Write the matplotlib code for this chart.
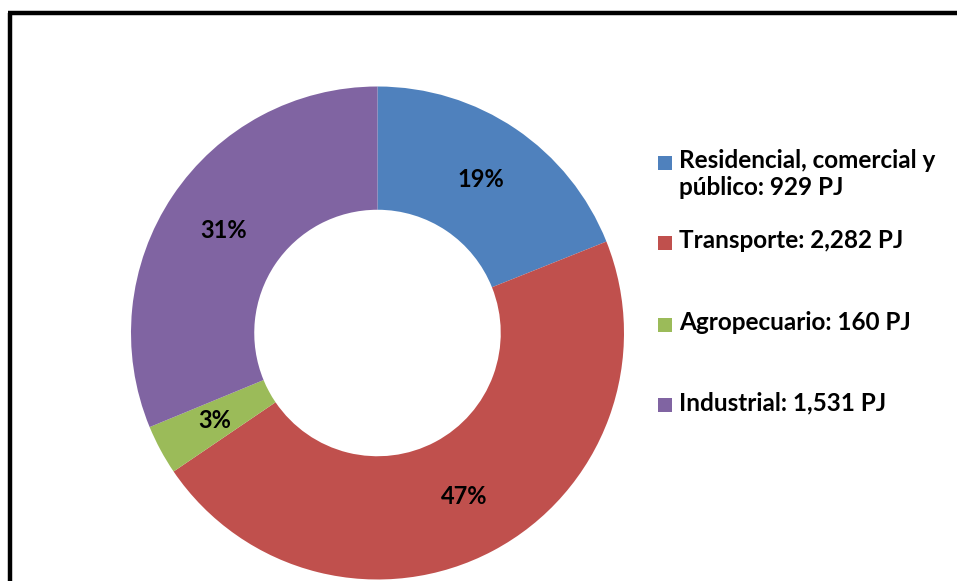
import matplotlib.pyplot as plt
from matplotlib.patches import Rectangle
from matplotlib.lines import Line2D

sectors = ["Residencial, comercial y\npúblico: 929 PJ", "Transporte: 2,282 PJ",
           "Agropecuario: 160 PJ", "Industrial: 1,531 PJ"]
energy_pj = [929, 2282, 160, 1531]
colors = ["#4F81BD", "#C0504D", "#9BBB59", "#8064A2"]

plt.rcParams['font.family'] = ['Lato', 'DejaVu Sans']

W, H = 957, 581
fig = plt.figure(figsize=(W / 100, H / 100), dpi=100)

# donut
cx, cy, r = 377.5, 333, 246.5
ax = fig.add_axes([(cx - r) / W, (H - cy - r) / H, 2 * r / W, 2 * r / H])
wedges, texts, autotexts = ax.pie(
    energy_pj, colors=colors, startangle=90, counterclock=False,
    radius=1, autopct='%1.0f%%', pctdistance=0.75,
    wedgeprops=dict(width=0.5, edgecolor='none'),
    textprops=dict(fontsize=17, fontweight='bold', color='black'))
ax.set_xlim(-1, 1)
ax.set_ylim(-1, 1)
ax.set_aspect('equal')
ax.axis('off')

# legend drawn by hand
legend_y = [163, 243, 325, 405]
for label, col, y in zip(sectors, colors, legend_y):
    fig.patches.append(Rectangle((658 / W, 1 - (y + 7) / H), 14 / W, 14 / H,
                                 transform=fig.transFigure, facecolor=col,
                                 edgecolor='none'))
    fig.text(679 / W, 1 - (y - 14) / H, label, fontsize=17.5, fontweight='bold',
             va='top', ha='left', linespacing=1.22)

# outer frame (only left and top edges are inside the picture)
fig.add_artist(Line2D([10 / W, 10 / W], [-0.05, 1 - 12.5 / H], color='black',
                      linewidth=3.2, solid_capstyle='butt'))
fig.add_artist(Line2D([8.3 / W, 1.05], [1 - 12.5 / H, 1 - 12.5 / H], color='black',
                      linewidth=3.2, solid_capstyle='butt'))

fig.savefig("out.png", dpi=100)
